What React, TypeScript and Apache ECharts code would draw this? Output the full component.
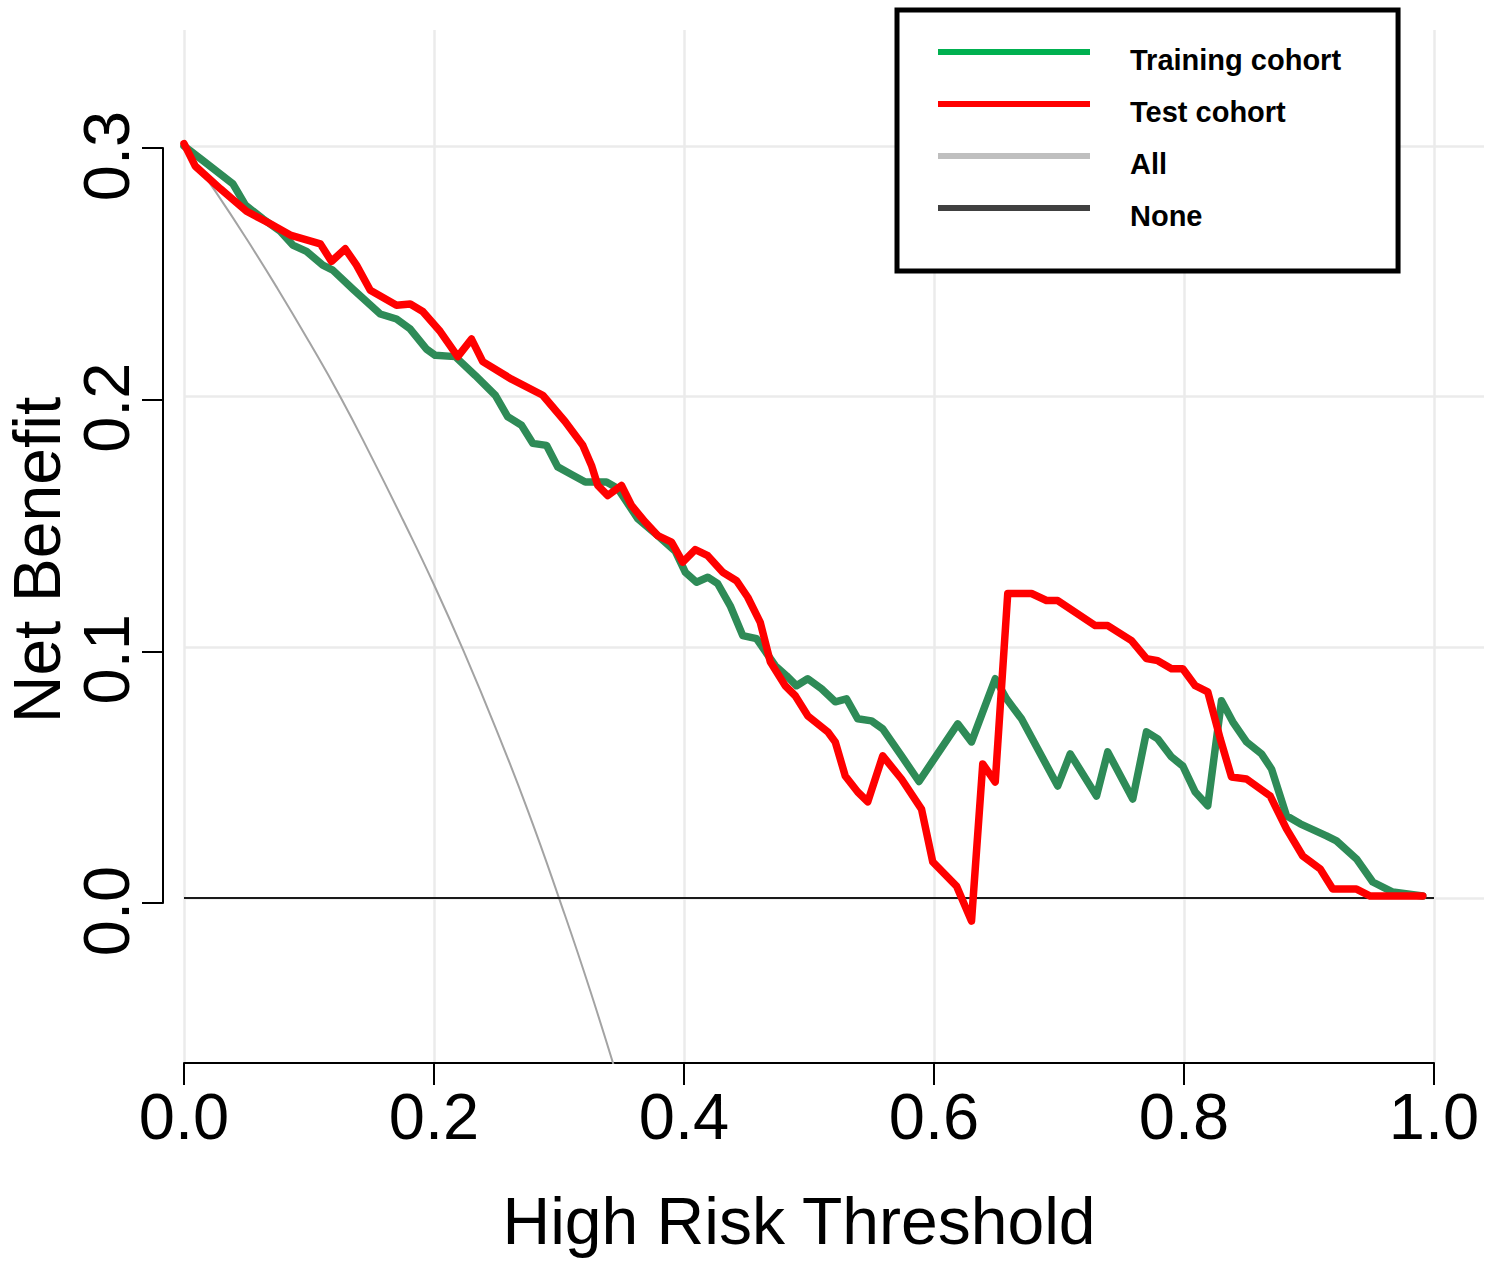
import React, { useEffect, useRef } from "react";
import * as echarts from "echarts";

// ---- Data ----
const trainX = [0.000, 0.013, 0.039, 0.049, 0.063, 0.077, 0.087, 0.098, 0.111, 0.119, 0.135, 0.146, 0.157, 0.170, 0.181, 0.194, 0.201, 0.217, 0.233, 0.249, 0.259, 0.270, 0.279, 0.290, 0.299, 0.310, 0.321, 0.338, 0.347, 0.363, 0.379, 0.393, 0.401, 0.410, 0.419, 0.427, 0.437, 0.447, 0.458, 0.473, 0.482, 0.490, 0.499, 0.510, 0.521, 0.530, 0.539, 0.550, 0.559, 0.574, 0.588, 0.619, 0.630, 0.649, 0.658, 0.670, 0.699, 0.709, 0.730, 0.739, 0.759, 0.770, 0.779, 0.790, 0.799, 0.809, 0.819, 0.830, 0.839, 0.850, 0.862, 0.870, 0.882, 0.893, 0.914, 0.922, 0.938, 0.951, 0.967, 0.991];
const trainY = [0.300, 0.295, 0.285, 0.2765, 0.271, 0.266, 0.2605, 0.258, 0.2525, 0.2505, 0.243, 0.238, 0.233, 0.231, 0.227, 0.219, 0.2165, 0.216, 0.2085, 0.2006, 0.192, 0.1886, 0.1814, 0.1806, 0.172, 0.169, 0.166, 0.166, 0.1634, 0.1514, 0.1446, 0.1384, 0.130, 0.126, 0.128, 0.1254, 0.1166, 0.1047, 0.1035, 0.0927, 0.0887, 0.0847, 0.0875, 0.0835, 0.0783, 0.0795, 0.0715, 0.0707, 0.0675, 0.0567, 0.0465, 0.0695, 0.0623, 0.0875, 0.0795, 0.0715, 0.0447, 0.0575, 0.0407, 0.0583, 0.0395, 0.0663, 0.0635, 0.0563, 0.0527, 0.0423, 0.0368, 0.0787, 0.0703, 0.0623, 0.0575, 0.0515, 0.0328, 0.0296, 0.0248, 0.0228, 0.0156, 0.0064, 0.0024, 0.0008];

const testX = [0.000, 0.009, 0.029, 0.050, 0.069, 0.085, 0.109, 0.118, 0.129, 0.138, 0.149, 0.170, 0.181, 0.191, 0.205, 0.219, 0.230, 0.239, 0.262, 0.287, 0.305, 0.319, 0.326, 0.331, 0.339, 0.350, 0.358, 0.369, 0.379, 0.390, 0.399, 0.409, 0.419, 0.431, 0.442, 0.451, 0.461, 0.469, 0.481, 0.489, 0.499, 0.515, 0.521, 0.529, 0.539, 0.547, 0.559, 0.574, 0.590, 0.599, 0.618, 0.630, 0.639, 0.649, 0.659, 0.678, 0.690, 0.699, 0.729, 0.739, 0.758, 0.770, 0.779, 0.790, 0.799, 0.809, 0.819, 0.829, 0.838, 0.850, 0.869, 0.882, 0.895, 0.909, 0.919, 0.938, 0.949, 0.991];
const testY = [0.301, 0.292, 0.283, 0.274, 0.269, 0.2645, 0.261, 0.254, 0.259, 0.2525, 0.2425, 0.2365, 0.237, 0.234, 0.226, 0.216, 0.223, 0.214, 0.207, 0.2006, 0.190, 0.1806, 0.1726, 0.1646, 0.1606, 0.1646, 0.1566, 0.150, 0.1446, 0.142, 0.134, 0.139, 0.1366, 0.130, 0.1266, 0.120, 0.110, 0.0943, 0.0847, 0.0807, 0.0727, 0.0663, 0.0623, 0.0487, 0.0423, 0.0384, 0.0567, 0.0475, 0.0355, 0.0144, 0.0048, -0.0092, 0.0535, 0.0463, 0.1215, 0.1215, 0.1187, 0.1187, 0.1087, 0.1087, 0.1027, 0.0955, 0.0947, 0.0915, 0.0915, 0.0847, 0.0823, 0.0635, 0.0483, 0.0475, 0.0407, 0.0276, 0.0168, 0.0116, 0.0036, 0.0036, 0.0008, 0.0008];

const allX = [0.000, 0.025, 0.050, 0.075, 0.100, 0.125, 0.150, 0.175, 0.200, 0.225, 0.250, 0.275, 0.300, 0.325, 0.350];
const allY = [0.300, 0.282, 0.263, 0.243, 0.222, 0.200, 0.176, 0.151, 0.125, 0.097, 0.067, 0.035, 0.000, -0.037, -0.077];

const noneX = [0, 1];
const noneY = [0, 0];

const xTickLabels = ["0.0", "0.2", "0.4", "0.6", "0.8", "1.0"];
const yTickLabels = ["0.0", "0.1", "0.2", "0.3"];

const seriesNames = ["Training cohort", "Test cohort", "All", "None"];
const legendColors = ["#00b050", "#ff0000", "#bfbfbf", "#404040"];

const FONT = "'Liberation Sans', Arial, Helvetica, sans-serif";
// legend sample: a 152x6 bar at the top of a 152x22 box (the trailing zero-area segment only sets the box)
const LEGEND_ICON = "path://M0,0L152,0L152,6L0,6ZM0,22L1,22";

const pairs = (xs: number[], ys: number[]) => xs.map((x, i) => [x, ys[i]]);

export default function App() {
  const ref = useRef<HTMLDivElement>(null);

  useEffect(() => {
    if (!ref.current) return;
    const chart = echarts.init(ref.current, null, { renderer: "svg" });
    const yMin = -0.0658;
    const yMax = 0.3463;
    const option: any = {
      animation: false,
      backgroundColor: "#ffffff",
      grid: [
        { left: 184, top: 30, width: 1300, height: 1033, containLabel: false },
        { left: 184, top: 30, width: 1250, height: 1033, containLabel: false },
        { left: 163, top: 148, width: 10, height: 755, containLabel: false },
      ],
      xAxis: [
        {
          gridIndex: 0, type: "value", min: 0, max: 1.04, interval: 0.2,
          axisLine: { show: false }, axisTick: { show: false }, axisLabel: { show: false },
          splitLine: { show: true, showMaxLine: false, lineStyle: { color: "#ebebeb", width: 2.5 } },
        },
        {
          gridIndex: 1, type: "value", min: 0, max: 1, interval: 0.2,
          axisLine: { show: true, onZero: false, lineStyle: { color: "#000", width: 2 } },
          axisTick: { show: true, inside: false, length: 22, lineStyle: { color: "#000", width: 2 } },
          axisLabel: {
            show: true, margin: 21, color: "#000", fontSize: 65, fontFamily: FONT,
            formatter: (v: number) => xTickLabels[Math.round(v / 0.2)] ?? "",
          },
          splitLine: { show: false },
        },
        { gridIndex: 2, type: "value", show: false, min: 0, max: 1 },
      ],
      yAxis: [
        {
          gridIndex: 0, type: "value", min: yMin, max: yMax,
          axisLine: { show: false }, axisTick: { show: false }, axisLabel: { show: false },
          splitLine: { show: true, showMinLine: false, showMaxLine: false, lineStyle: { color: "#ebebeb", width: 2.5 } },
        },
        { gridIndex: 1, type: "value", min: yMin, max: yMax, show: false },
        {
          gridIndex: 2, type: "value", min: 0, max: 0.3, interval: 0.1,
          axisLine: { show: true, lineStyle: { color: "#000", width: 2 } },
          axisTick: { show: true, inside: false, length: 21, lineStyle: { color: "#000", width: 2 } },
          axisLabel: {
            show: true, rotate: 90, margin: 24, color: "#000", fontSize: 65, fontFamily: FONT,
            padding: [0, 16, 0, 0],
            formatter: (v: number) => yTickLabels[Math.round(v / 0.1)] ?? "",
          },
          splitLine: { show: false },
        },
      ],
      legend: {
        show: true,
        orient: "vertical",
        left: 897,
        top: 10,
        icon: LEGEND_ICON,
        itemWidth: 152,
        itemHeight: 22,
        itemGap: 22,
        padding: [35, 57, 40, 41],
        borderColor: "#000",
        borderWidth: 5,
        backgroundColor: "#fff",
        selectedMode: false,
        z: 10,
        textStyle: {
          fontSize: 29, fontWeight: "bold", fontFamily: FONT, color: "#000",
          lineHeight: 30, padding: [0, 0, 0, 35],
        },
        data: seriesNames.map((n, i) => ({
          name: n,
          itemStyle: { color: legendColors[i], borderWidth: 0 },
        })),
      },
      graphic: [
        {
          type: "text", x: 799, y: 1221,
          style: { text: "High Risk Threshold", font: `66px ${FONT}`, fill: "#000", align: "center", verticalAlign: "middle" },
        },
        {
          type: "text", x: 37, y: 560, rotation: Math.PI / 2,
          style: { text: "Net Benefit", font: `66px ${FONT}`, fill: "#000", align: "center", verticalAlign: "middle" },
        },
      ],
      series: [
        {
          name: "All", type: "line", xAxisIndex: 1, yAxisIndex: 1, smooth: true,
          showSymbol: false, symbol: "none", clip: true,
          lineStyle: { color: "#a3a3a3", width: 2 }, itemStyle: { color: "#a3a3a3" },
          data: pairs(allX, allY), z: 2,
        },
        {
          name: "None", type: "line", xAxisIndex: 1, yAxisIndex: 1,
          showSymbol: false, symbol: "none",
          lineStyle: { color: "#1a1a1a", width: 2 }, itemStyle: { color: "#1a1a1a" },
          data: pairs(noneX, noneY), z: 2,
        },
        {
          name: "Training cohort", type: "line", xAxisIndex: 1, yAxisIndex: 1,
          showSymbol: false, symbol: "none",
          lineStyle: { color: "#2e8b57", width: 7.5, cap: "round", join: "round" }, itemStyle: { color: "#2e8b57" },
          data: pairs(trainX, trainY), z: 3,
        },
        {
          name: "Test cohort", type: "line", xAxisIndex: 1, yAxisIndex: 1,
          showSymbol: false, symbol: "none",
          lineStyle: { color: "#ff0000", width: 7.5, cap: "round", join: "round" }, itemStyle: { color: "#ff0000" },
          data: pairs(testX, testY), z: 4,
        },
      ],
    };
    chart.setOption(option);
    return () => chart.dispose();
  }, []);

  return (
    <div
      ref={ref}
      style={{ position: "absolute", left: 0, top: 0, width: 1491, height: 1263, background: "#fff" }}
    />
  );
}
